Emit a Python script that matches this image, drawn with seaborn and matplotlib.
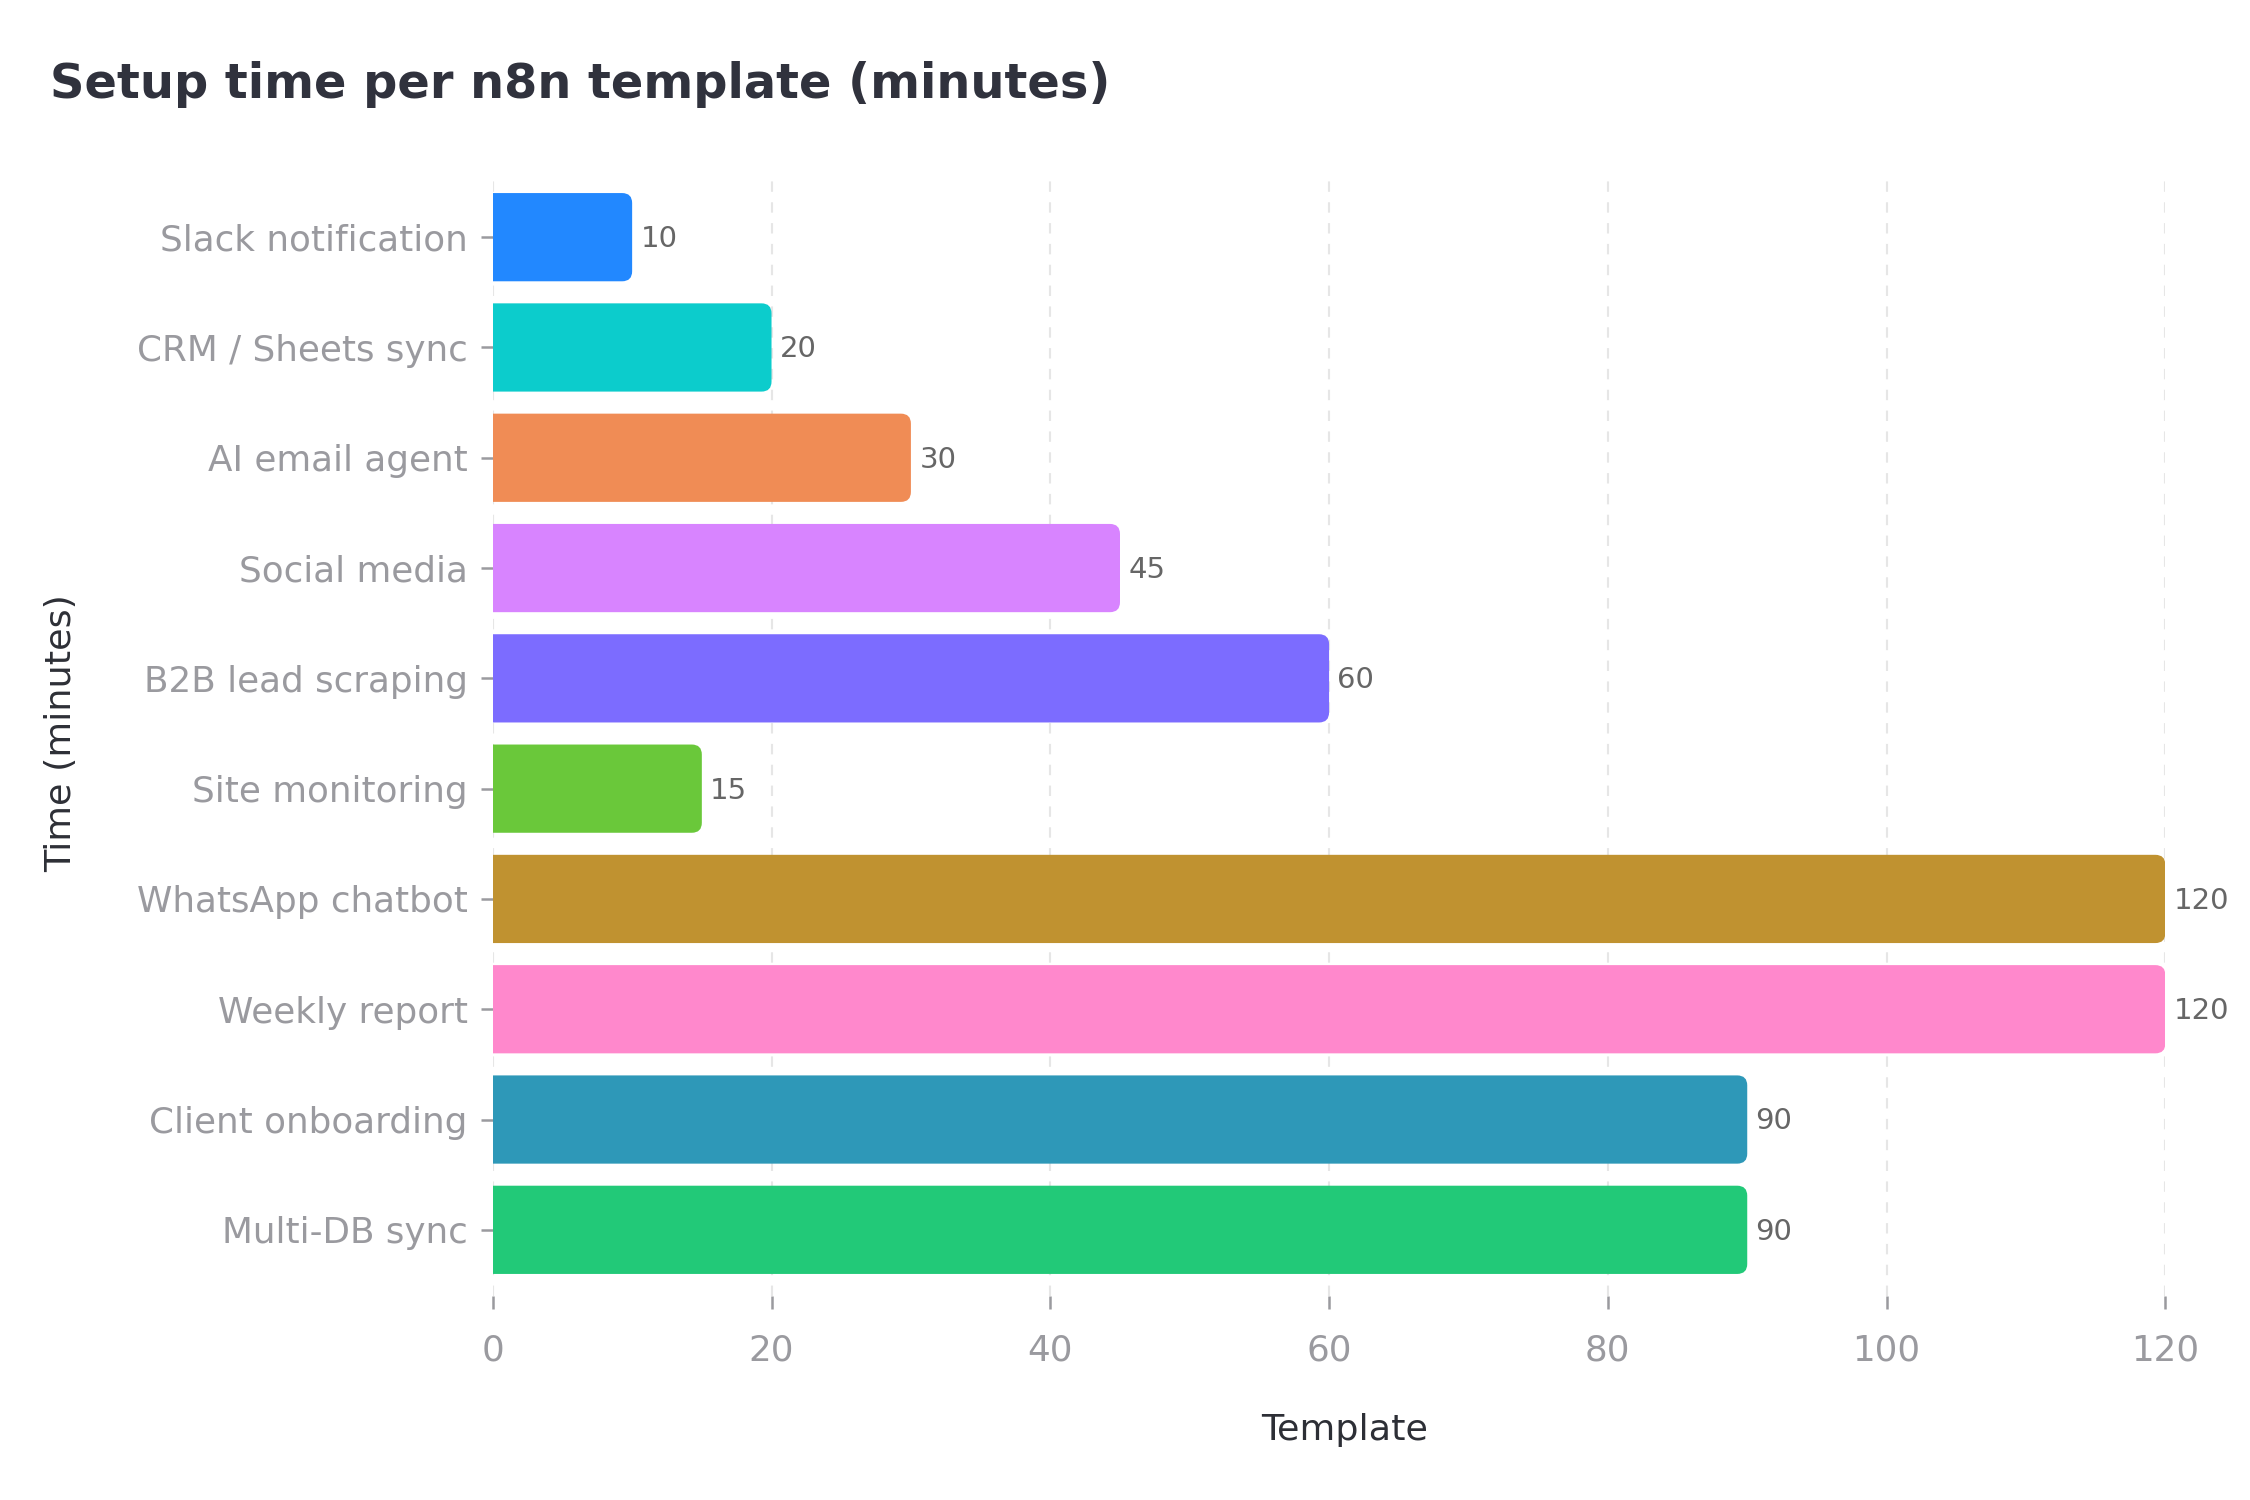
import numpy as np
import pandas as pd
import matplotlib
matplotlib.use("Agg")
import matplotlib.pyplot as plt
from matplotlib.patches import FancyBboxPatch
import seaborn as sns

# data
templates = ["Slack notification", "CRM / Sheets sync", "AI email agent", "Social media",
             "B2B lead scraping", "Site monitoring", "WhatsApp chatbot", "Weekly report",
             "Client onboarding", "Multi-DB sync"]
minutes = [10, 20, 30, 45, 60, 15, 120, 120, 90, 90]
colors = ["#2288ff", "#0ccccc", "#f08c55", "#d884ff", "#7c6cff",
          "#6ac83a", "#c09230", "#ff88cc", "#2e98b8", "#22c978"]

df = pd.DataFrame({"template": templates, "minutes": minutes})

sns.set_theme(style="white")
plt.rcParams["font.family"] = ["DejaVu Sans"]

fig = plt.figure(figsize=(15, 10), dpi=150)
ax = fig.add_axes([0.219, 0.136, 0.7434, 0.750])

sns.barplot(data=df, x="minutes", y="template", hue="template", palette=colors,
            legend=False, orient="h", width=0.8, saturation=1, ax=ax, zorder=2)
ax.set_xlim(0, 120)
ax.set_ylim(9.6, -0.6)

# swap plain bars for bars with rounded ends
fig.canvas.draw()
inv = ax.transData.inverted()
p0 = inv.transform((0, 0))
p1 = inv.transform((1, 1))
ux = abs(p1[0] - p0[0])   # data units per pixel in x
uy = abs(p1[1] - p0[1])
r_px = 10
for bar in list(ax.patches):
    x, y = bar.get_x(), bar.get_y()
    w, h = bar.get_width(), bar.get_height()
    fc = bar.get_facecolor()
    bar.remove()
    pad = r_px * ux * 2
    fb = FancyBboxPatch((x - pad, y), w + pad, h,
                        boxstyle=f"round,pad=0,rounding_size={r_px * ux}",
                        mutation_aspect=uy / ux, facecolor=fc, edgecolor="none",
                        zorder=2, clip_on=True)
    ax.add_patch(fb)
    ax.text(x + w + 0.6, y + h / 2 - 0.01, f"{w:g}", va="center_baseline", ha="left",
            fontsize=14, color="#666666", clip_on=False, zorder=3)

ax.set_xticks([0, 20, 40, 60, 80, 100, 120])
ax.grid(axis="x", color="#e6e6e6", linestyle=(0, (5, 5)), linewidth=1, zorder=0)
ax.grid(axis="y", visible=False)
for s in ax.spines.values():
    s.set_visible(False)
ax.tick_params(axis="both", which="both", direction="out", length=6, width=1.2,
               color="#9a9a9f", labelcolor="#9a9a9f", labelsize=17.2, pad=6,
               bottom=True, left=True)
ax.tick_params(axis="x", pad=12)

ax.set_xlabel("Template", fontsize=17.5, color="#2d2f36", labelpad=22)
ax.xaxis.label.set_x(0.509)
ax.set_ylabel("Time (minutes)", fontsize=17.5, color="#2d2f36", labelpad=28)
fig.text(0.022, 0.944, "Setup time per n8n template (minutes)", fontsize=23,
         fontweight="bold", color="#30323d", ha="left", va="center")

fig.savefig("out.png", dpi=150, facecolor="white")
